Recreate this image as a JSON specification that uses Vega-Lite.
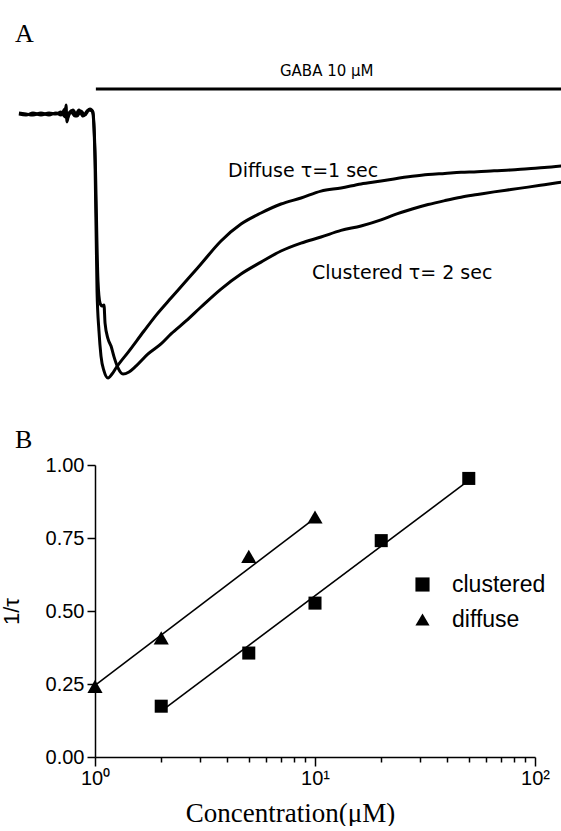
{
  "$schema": "https://vega.github.io/schema/vega-lite/v6.json",
  "background": "white",
  "padding": {"left": 0, "top": 21, "right": 0, "bottom": 0},
  "spacing": 36,
  "config": {"view": {"stroke": null}, "font": "Liberation Sans"},
  "datasets": {
    "traces": [
      {"trace": "diffuse", "t": -0.863, "v": 0},
      {"trace": "diffuse", "t": -0.783, "v": -0.004},
      {"trace": "diffuse", "t": -0.704, "v": 0.004},
      {"trace": "diffuse", "t": -0.613, "v": -0.004},
      {"trace": "diffuse", "t": -0.522, "v": 0.004},
      {"trace": "diffuse", "t": -0.443, "v": 0},
      {"trace": "diffuse", "t": -0.386, "v": 0.008},
      {"trace": "diffuse", "t": -0.341, "v": -0.011},
      {"trace": "diffuse", "t": -0.329, "v": 0.034},
      {"trace": "diffuse", "t": -0.318, "v": -0.03},
      {"trace": "diffuse", "t": -0.295, "v": 0.004},
      {"trace": "diffuse", "t": -0.25, "v": 0.015},
      {"trace": "diffuse", "t": -0.204, "v": -0.008},
      {"trace": "diffuse", "t": -0.159, "v": 0.011},
      {"trace": "diffuse", "t": -0.114, "v": -0.004},
      {"trace": "diffuse", "t": -0.068, "v": 0.015},
      {"trace": "diffuse", "t": -0.034, "v": 0.011},
      {"trace": "diffuse", "t": -0.023, "v": 0},
      {"trace": "diffuse", "t": 0, "v": -0.178},
      {"trace": "diffuse", "t": 0.023, "v": -0.67},
      {"trace": "diffuse", "t": 0.045, "v": -0.822},
      {"trace": "diffuse", "t": 0.068, "v": -0.917},
      {"trace": "diffuse", "t": 0.102, "v": -0.973},
      {"trace": "diffuse", "t": 0.148, "v": -1.0},
      {"trace": "diffuse", "t": 0.193, "v": -0.985},
      {"trace": "diffuse", "t": 0.238, "v": -0.962},
      {"trace": "diffuse", "t": 0.386, "v": -0.898},
      {"trace": "diffuse", "t": 0.556, "v": -0.822},
      {"trace": "diffuse", "t": 0.704, "v": -0.758},
      {"trace": "diffuse", "t": 0.863, "v": -0.697},
      {"trace": "diffuse", "t": 1.033, "v": -0.633},
      {"trace": "diffuse", "t": 1.203, "v": -0.568},
      {"trace": "diffuse", "t": 1.43, "v": -0.481},
      {"trace": "diffuse", "t": 1.657, "v": -0.417},
      {"trace": "diffuse", "t": 1.884, "v": -0.375},
      {"trace": "diffuse", "t": 2.111, "v": -0.341},
      {"trace": "diffuse", "t": 2.338, "v": -0.318},
      {"trace": "diffuse", "t": 2.565, "v": -0.292},
      {"trace": "diffuse", "t": 2.792, "v": -0.28},
      {"trace": "diffuse", "t": 3.019, "v": -0.265},
      {"trace": "diffuse", "t": 3.246, "v": -0.254},
      {"trace": "diffuse", "t": 3.394, "v": -0.246},
      {"trace": "diffuse", "t": 3.6, "v": -0.236},
      {"trace": "diffuse", "t": 3.78, "v": -0.229},
      {"trace": "diffuse", "t": 3.97, "v": -0.225},
      {"trace": "diffuse", "t": 4.154, "v": -0.221},
      {"trace": "diffuse", "t": 4.34, "v": -0.219},
      {"trace": "diffuse", "t": 4.529, "v": -0.215},
      {"trace": "diffuse", "t": 4.72, "v": -0.212},
      {"trace": "diffuse", "t": 4.915, "v": -0.207},
      {"trace": "diffuse", "t": 5.1, "v": -0.203},
      {"trace": "diffuse", "t": 5.301, "v": -0.197},
      {"trace": "clustered", "t": -0.863, "v": 0.004},
      {"trace": "clustered", "t": -0.783, "v": 0},
      {"trace": "clustered", "t": -0.704, "v": -0.004},
      {"trace": "clustered", "t": -0.613, "v": 0.004},
      {"trace": "clustered", "t": -0.522, "v": -0.004},
      {"trace": "clustered", "t": -0.443, "v": 0.004},
      {"trace": "clustered", "t": -0.386, "v": -0.004},
      {"trace": "clustered", "t": -0.341, "v": 0.019},
      {"trace": "clustered", "t": -0.318, "v": -0.015},
      {"trace": "clustered", "t": -0.272, "v": 0.008},
      {"trace": "clustered", "t": -0.227, "v": -0.008},
      {"trace": "clustered", "t": -0.182, "v": 0.015},
      {"trace": "clustered", "t": -0.136, "v": -0.008},
      {"trace": "clustered", "t": -0.091, "v": 0.011},
      {"trace": "clustered", "t": -0.057, "v": 0.019},
      {"trace": "clustered", "t": -0.023, "v": 0.008},
      {"trace": "clustered", "t": 0, "v": -0.14},
      {"trace": "clustered", "t": 0.034, "v": -0.633},
      {"trace": "clustered", "t": 0.057, "v": -0.716},
      {"trace": "clustered", "t": 0.079, "v": -0.727},
      {"trace": "clustered", "t": 0.102, "v": -0.723},
      {"trace": "clustered", "t": 0.114, "v": -0.792},
      {"trace": "clustered", "t": 0.148, "v": -0.852},
      {"trace": "clustered", "t": 0.182, "v": -0.879},
      {"trace": "clustered", "t": 0.216, "v": -0.92},
      {"trace": "clustered", "t": 0.261, "v": -0.962},
      {"trace": "clustered", "t": 0.318, "v": -0.985},
      {"trace": "clustered", "t": 0.386, "v": -0.977},
      {"trace": "clustered", "t": 0.465, "v": -0.955},
      {"trace": "clustered", "t": 0.602, "v": -0.909},
      {"trace": "clustered", "t": 0.749, "v": -0.871},
      {"trace": "clustered", "t": 0.863, "v": -0.833},
      {"trace": "clustered", "t": 1.033, "v": -0.784},
      {"trace": "clustered", "t": 1.203, "v": -0.731},
      {"trace": "clustered", "t": 1.43, "v": -0.663},
      {"trace": "clustered", "t": 1.657, "v": -0.606},
      {"trace": "clustered", "t": 1.884, "v": -0.561},
      {"trace": "clustered", "t": 2.111, "v": -0.519},
      {"trace": "clustered", "t": 2.338, "v": -0.489},
      {"trace": "clustered", "t": 2.565, "v": -0.466},
      {"trace": "clustered", "t": 2.792, "v": -0.441},
      {"trace": "clustered", "t": 3.019, "v": -0.424},
      {"trace": "clustered", "t": 3.246, "v": -0.401},
      {"trace": "clustered", "t": 3.394, "v": -0.382},
      {"trace": "clustered", "t": 3.6, "v": -0.36},
      {"trace": "clustered", "t": 3.78, "v": -0.343},
      {"trace": "clustered", "t": 3.97, "v": -0.328},
      {"trace": "clustered", "t": 4.154, "v": -0.315},
      {"trace": "clustered", "t": 4.34, "v": -0.305},
      {"trace": "clustered", "t": 4.529, "v": -0.295},
      {"trace": "clustered", "t": 4.72, "v": -0.286},
      {"trace": "clustered", "t": 4.915, "v": -0.277},
      {"trace": "clustered", "t": 5.1, "v": -0.268},
      {"trace": "clustered", "t": 5.301, "v": -0.258}
    ],
    "stimulus": [{"t": 0.01, "t_end": 5.3, "v": 0.0947, "label": "GABA 10 μM", "v_label": 0.144, "t_label": 2.63}],
    "traceLabels": [
      {"t": 1.51, "v": -0.239, "label": "Diffuse τ=1 sec"},
      {"t": 2.463, "v": -0.625, "label": "Clustered τ= 2 sec"}
    ],
    "rates": [
      {"series": "clustered", "conc": 2, "rate": 0.174},
      {"series": "clustered", "conc": 5, "rate": 0.356},
      {"series": "clustered", "conc": 10, "rate": 0.527},
      {"series": "clustered", "conc": 20, "rate": 0.741},
      {"series": "clustered", "conc": 50, "rate": 0.954},
      {"series": "diffuse", "conc": 1, "rate": 0.242},
      {"series": "diffuse", "conc": 2, "rate": 0.408},
      {"series": "diffuse", "conc": 5, "rate": 0.687},
      {"series": "diffuse", "conc": 10, "rate": 0.822}
    ],
    "fits": [
      {"series": "clustered", "conc": 2, "rate": 0.157},
      {"series": "clustered", "conc": 50, "rate": 0.947},
      {"series": "diffuse", "conc": 1, "rate": 0.245},
      {"series": "diffuse", "conc": 10, "rate": 0.818}
    ]
  },
  "vconcat": [
    {
      "title": {"text": "A", "anchor": "start", "frame": "group", "dx": -80, "offset": -17, "font": "Liberation Serif", "fontSize": 26, "fontWeight": "normal", "color": "black", "baseline": "alphabetic"},
      "width": 467,
      "height": 340,
      "layer": [
        {
          "data": {"name": "traces"},
          "mark": {"type": "line", "color": "black", "strokeWidth": 3, "strokeJoin": "round", "interpolate": "monotone"},
          "encoding": {
            "x": {"field": "t", "type": "quantitative", "scale": {"domain": [0, 5.3], "nice": false, "zero": false}, "axis": null},
            "y": {"field": "v", "type": "quantitative", "scale": {"domain": [-1.0492, 0.2386], "nice": false, "zero": false}, "axis": null},
            "detail": {"field": "trace", "type": "nominal"}
          }
        },
        {
          "data": {"name": "stimulus"},
          "mark": {"type": "rule", "color": "black", "strokeWidth": 3},
          "encoding": {
            "x": {"field": "t", "type": "quantitative"},
            "x2": {"field": "t_end"},
            "y": {"field": "v", "type": "quantitative"}
          }
        },
        {
          "data": {"name": "stimulus"},
          "mark": {"type": "text", "font": "DejaVu Sans", "fontSize": 15, "align": "center", "baseline": "alphabetic", "color": "black"},
          "encoding": {
            "x": {"field": "t_label", "type": "quantitative"},
            "y": {"field": "v_label", "type": "quantitative"},
            "text": {"field": "label"}
          }
        },
        {
          "data": {"name": "traceLabels"},
          "mark": {"type": "text", "font": "DejaVu Sans", "fontSize": 19, "align": "left", "baseline": "alphabetic", "color": "black"},
          "encoding": {
            "x": {"field": "t", "type": "quantitative"},
            "y": {"field": "v", "type": "quantitative"},
            "text": {"field": "label"}
          }
        }
      ]
    },
    {
      "title": {"text": "B", "anchor": "start", "frame": "group", "dx": -80, "offset": -19, "font": "Liberation Serif", "fontSize": 26, "fontWeight": "normal", "color": "black", "baseline": "alphabetic"},
      "width": 440,
      "height": 292,
      "layer": [
        {
          "data": {"name": "fits"},
          "mark": {"type": "line", "color": "black", "strokeWidth": 1.6},
          "encoding": {
            "x": {
              "field": "conc", "type": "quantitative",
              "scale": {"type": "log", "domain": [1, 100], "nice": false},
              "axis": {
                "values": [1, 2, 3, 4, 5, 6, 7, 8, 9, 10, 20, 30, 40, 50, 60, 70, 80, 90, 100],
                "labelExpr": "datum.value == 1 ? '10⁰' : datum.value == 10 ? '10¹' : datum.value == 100 ? '10²' : ''",
                "tickSize": {"condition": {"test": "datum.value == 1 || datum.value == 10 || datum.value == 100", "value": 9}, "value": 5},
                "labelFontSize": 20, "labelFont": "Liberation Sans", "labelColor": "black", "labelPadding": 2,
                "labelFlush": false, "labelOverlap": false,
                "domainColor": "black", "domainWidth": 1.5, "tickColor": "black", "tickWidth": 1.5, "grid": false,
                "title": "Concentration(μM)", "titleFont": "Liberation Serif", "titleFontSize": 27, "titleFontWeight": "normal", "titleColor": "black",
                "titleX": 195, "titleY": 64, "titleBaseline": "alphabetic", "titleAlign": "center"
              }
            },
            "y": {
              "field": "rate", "type": "quantitative",
              "scale": {"domain": [0, 1], "nice": false},
              "axis": {
                "values": [0, 0.25, 0.5, 0.75, 1], "format": ".2f",
                "tickSize": 8, "labelFontSize": 20, "labelFont": "Liberation Sans", "labelColor": "black", "labelPadding": 3,
                "labelFlush": false, "labelOverlap": false,
                "domainColor": "black", "domainWidth": 1.5, "tickColor": "black", "tickWidth": 1.5, "grid": false,
                "title": "1/τ", "titleFont": "Liberation Sans", "titleFontSize": 22, "titleFontWeight": "normal", "titleColor": "black",
                "titleX": -77, "titleY": 146, "titleAngle": -90, "titleBaseline": "alphabetic", "titleAlign": "center"
              }
            },
            "detail": {"field": "series", "type": "nominal"}
          }
        },
        {
          "data": {"name": "rates"},
          "transform": [{"filter": "datum.series == 'clustered'"}],
          "mark": {"type": "point", "filled": true, "opacity": 1, "color": "black", "strokeWidth": 0, "size": 170},
          "encoding": {
            "x": {"field": "conc", "type": "quantitative"},
            "y": {"field": "rate", "type": "quantitative"},
            "shape": {
              "field": "series", "type": "nominal",
              "scale": {"domain": ["clustered", "diffuse"], "range": ["square", "triangle-up"]},
              "legend": {
                "title": null, "orient": "none", "legendX": 316, "legendY": 522, "padding": 0,
                "labelFontSize": 23, "labelFont": "Liberation Sans", "labelColor": "black",
                "symbolSize": 200, "symbolFillColor": "black", "symbolStrokeWidth": 0, "symbolOpacity": 1,
                "rowPadding": 11, "labelOffset": 18
              }
            }
          }
        },
        {
          "data": {"name": "rates"},
          "transform": [{"filter": "datum.series == 'diffuse'"}],
          "mark": {"type": "point", "filled": true, "opacity": 1, "color": "black", "strokeWidth": 0, "size": 230},
          "encoding": {
            "x": {"field": "conc", "type": "quantitative"},
            "y": {"field": "rate", "type": "quantitative"},
            "shape": {"field": "series", "type": "nominal"}
          }
        }
      ]
    }
  ]
}
